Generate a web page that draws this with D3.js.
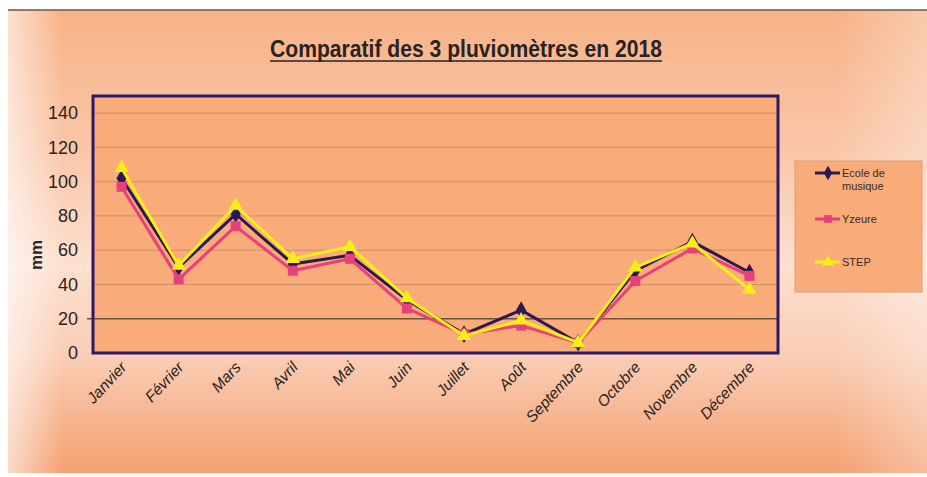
<!DOCTYPE html>
<html>
<head>
<meta charset="utf-8">
<script src="https://cdn.jsdelivr.net/npm/d3@7"></script>
<style>
  html, body { margin: 0; padding: 0; background: #ffffff; }
  svg { display: block; }
</style>
</head>
<body>
<script>
const months = ["Janvier","Février","Mars","Avril","Mai","Juin","Juillet","Août","Septembre","Octobre","Novembre","Décembre"];
const ecole  = [102, 50, 81, 52, 57, 31, 11, 25, 6, 48, 65, 47];
const yzeure = [97, 43, 74, 48, 55, 26, 11, 16, 6, 42, 61, 45];
const step   = [108, 51, 86, 55, 62, 32, 10, 19, 6, 50, 64, 37];
const seriesNames = ["Ecole de musique", "Yzeure", "STEP"];
const yTicks = [0, 20, 40, 60, 80, 100, 120, 140];
const title = "Comparatif des 3 pluviomètres en 2018";

(function () {
const W = 927, H = 477;
const svg = d3.select("body").append("svg").attr("width", W).attr("height", H);
const defs = svg.append("defs");

const bg = defs.append("linearGradient").attr("id", "bg").attr("x1", 0).attr("y1", 0).attr("x2", 0).attr("y2", 1);
[[0, "#f7b287"], [0.3, "#fac6a8"], [0.55, "#fde0d0"], [0.75, "#facdb5"], [1, "#f4a070"]]
  .forEach(([o, c]) => bg.append("stop").attr("offset", o).attr("stop-color", c));
const side = defs.append("linearGradient").attr("id", "side").attr("x1", 0).attr("y1", 0).attr("x2", 1).attr("y2", 0);
[[0, "#ffffff", 0.6], [0.06, "#ffffff", 0], [0.9, "#ffffff", 0], [1, "#ffffff", 0.3]]
  .forEach(([o, c, a]) => side.append("stop").attr("offset", o).attr("stop-color", c).attr("stop-opacity", a));

// outer chart area
svg.append("rect").attr("x", 8).attr("y", 10).attr("width", W - 8).attr("height", 463).attr("fill", "url(#bg)");
svg.append("rect").attr("x", 8).attr("y", 10).attr("width", W - 8).attr("height", 463).attr("fill", "url(#side)");
svg.append("line").attr("x1", 8).attr("x2", W).attr("y1", 10).attr("y2", 10).attr("stroke", "#6a5548").attr("stroke-width", 1.5);

// title
const t = svg.append("text").attr("x", 466).attr("y", 57).attr("text-anchor", "middle")
  .attr("font-family", "'Liberation Sans Narrow', 'Arial Narrow', 'Liberation Sans', sans-serif")
  .attr("font-weight", "bold").attr("font-size", 24).attr("fill", "#2a2222")
  .attr("textLength", 392).attr("lengthAdjust", "spacingAndGlyphs").text(title);
const tb = t.node().getBBox();
svg.append("line").attr("x1", tb.x).attr("x2", tb.x + tb.width).attr("y1", 61).attr("y2", 61)
  .attr("stroke", "#2a2222").attr("stroke-width", 1.6);

// plot
const pL = 93, pR = 778, pT = 96, pB = 353;
const x = d3.scaleBand().domain(months).range([pL, pR]);
const y = d3.scaleLinear().domain([0, 150]).range([pB, pT]);
const cx = d => x(d) + x.bandwidth() / 2;

svg.append("rect").attr("x", pL).attr("y", pT).attr("width", pR - pL).attr("height", pB - pT)
  .attr("fill", "#f9ab79");

// grid
svg.append("g").selectAll("line").data(yTicks.filter(v => v > 0)).join("line")
  .attr("x1", d => d === 20 ? pL - 6 : pL).attr("x2", pR)
  .attr("y1", d => y(d)).attr("y2", d => y(d))
  .attr("stroke", d => d === 20 ? "#6e5240" : "#cf9068")
  .attr("stroke-width", d => d === 20 ? 1.4 : 1);

// y axis labels
const yAxis = d3.axisLeft(y).tickValues(yTicks).tickSize(0).tickPadding(15);
const gy = svg.append("g").attr("transform", `translate(${pL},0)`).call(yAxis);
gy.select(".domain").remove();
gy.selectAll("text").attr("font-family", "'Liberation Sans Narrow', 'Arial Narrow', sans-serif")
  .attr("font-size", 18).attr("fill", "#2a2222");

svg.append("text").attr("transform", "translate(42,255) rotate(-90)").attr("text-anchor", "middle")
  .attr("font-family", "'Liberation Sans', Arial, sans-serif").attr("font-weight", "bold")
  .attr("font-size", 17).attr("fill", "#2a2222").text("mm");

// x axis labels
const xAxis = d3.axisBottom(x).tickSize(0).tickPadding(0);
const gx = svg.append("g").attr("transform", `translate(0,${pB})`).call(xAxis);
gx.select(".domain").remove();
gx.selectAll("text")
  .attr("font-family", "'Liberation Sans Narrow', 'Arial Narrow', sans-serif")
  .attr("font-style", "italic").attr("font-size", 15.5).attr("fill", "#2a2222")
  .attr("text-anchor", "end").attr("dy", null).attr("y", 0).attr("x", 0)
  .attr("transform", "translate(6,15) rotate(-47)");

// series
const series = [
  { name: seriesNames[0], values: ecole,  color: "#2b1850", marker: "diamond" },
  { name: seriesNames[1], values: yzeure, color: "#e8407c", marker: "square" },
  { name: seriesNames[2], values: step,   color: "#f6ee16", marker: "triangle" }
];
const sym = { diamond: d3.symbolDiamond, square: d3.symbolSquare, triangle: d3.symbolTriangle };
const line = d3.line().x((d, i) => cx(months[i])).y(d => y(d));

series.forEach(s => {
  svg.append("path").datum(s.values).attr("d", line).attr("fill", "none")
    .attr("stroke", s.color).attr("stroke-width", 3).attr("stroke-linejoin", "round");
  svg.append("g").selectAll("path").data(s.values).join("path")
    .attr("transform", (d, i) => `translate(${cx(months[i])},${y(d)})`)
    .attr("d", d3.symbol().type(sym[s.marker]).size(s.marker === "square" ? 100 : 90))
    .attr("fill", s.color);
});

// plot border
svg.append("rect").attr("x", pL).attr("y", pT).attr("width", pR - pL).attr("height", pB - pT)
  .attr("fill", "none").attr("stroke", "#2c1a68").attr("stroke-width", 3);

// legend
const lg = svg.append("g");
lg.append("rect").attr("x", 795).attr("y", 161).attr("width", 127).attr("height", 131)
  .attr("fill", "#f9ab79").attr("stroke", "#d8a07a").attr("stroke-width", 1);
const legendRows = [
  { s: series[0], y: 173, lines: ["Ecole de", "musique"] },
  { s: series[1], y: 219, lines: ["Yzeure"] },
  { s: series[2], y: 262, lines: ["STEP"] }
];
legendRows.forEach(r => {
  lg.append("line").attr("x1", 815).attr("x2", 840).attr("y1", r.y).attr("y2", r.y)
    .attr("stroke", r.s.color).attr("stroke-width", 3);
  lg.append("path").attr("transform", `translate(828,${r.y})`)
    .attr("d", d3.symbol().type(sym[r.s.marker]).size(60)).attr("fill", r.s.color);
  r.lines.forEach((ln, k) => {
    lg.append("text").attr("x", 842).attr("y", r.y + 4 + k * 13)
      .attr("font-family", "'Liberation Sans Narrow', 'Arial Narrow', sans-serif")
      .attr("font-size", 11).attr("fill", "#3a2a2a").text(ln);
  });
});
})();
</script>
</body>
</html>
